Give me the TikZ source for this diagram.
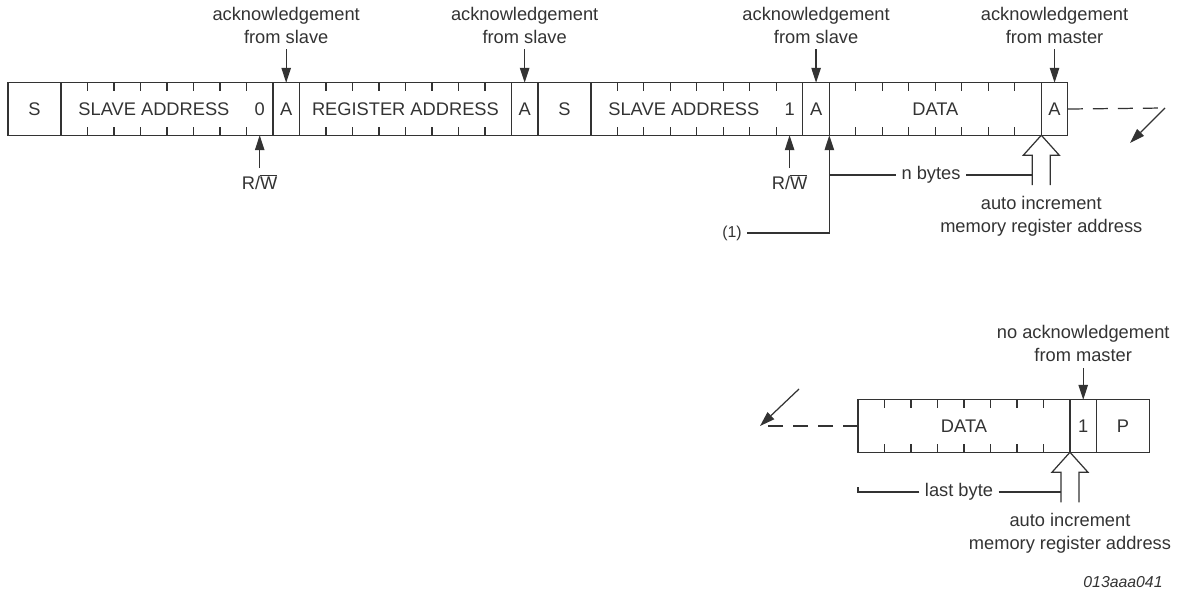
\documentclass[tikz,border=0pt]{standalone}
\usepackage{fontspec}
\setmainfont{Liberation Sans}
\usetikzlibrary{positioning,arrows.meta}

\tikzset{
  field/.style={draw, minimum height=1.05cm, inner sep=0pt, outer sep=0pt},
  bitone/.style={field, minimum width=0.53cm},
  bittwo/.style={field, minimum width=1.06cm},
  byte/.style={field, minimum width=4.24cm,
    path picture={
      \foreach \i in {1,...,7} {
        \draw ([xshift=\i*0.53cm]path picture bounding box.north west) -- ++(0,-0.16cm);
        \draw ([xshift=\i*0.53cm]path picture bounding box.south west) -- ++(0,0.16cm);
      }
    }},
  note/.style={inner sep=0.1cm, align=center},
  arr/.style={-{Triangle[length=0.3cm,width=0.19cm]}},
  cont/.style={dash pattern=on 0.3cm off 0.2cm}
}

\begin{document}
\begin{tikzpicture}[x=0.02cm, y=-0.02cm, line width=0.7pt, color=black!80,
    font=\fontsize{10.4pt}{13.1pt}\selectfont]
    \useasboundingbox (0,0) rectangle (1179,592);

    % Upper frame
    \node[bittwo, anchor=west] (s1) at (8,109) {S};
    \node[byte, right=0pt of s1] (sa1) {};
    \node[bitone, right=0pt of sa1] (a1) {A};
    \node[byte, right=0pt of a1] (ra) {REGISTER ADDRESS};
    \node[bitone, right=0pt of ra] (a2) {A};
    \node[bittwo, right=0pt of a2] (s2) {S};
    \node[byte, right=0pt of s2] (sa2) {};
    \node[bitone, right=0pt of sa2] (a3) {A};
    \node[byte, right=0pt of a3] (data1) {DATA};
    \node[bitone, right=0pt of data1] (a4) {A};

    % Texts inside the address bytes
    \node (sa1t) at ([xshift=-0.26cm]sa1.center) {SLAVE ADDRESS};
    \node (rw0) at ([xshift=-0.265cm]sa1.east) {0};
    \node (sa2t) at ([xshift=-0.26cm]sa2.center) {SLAVE ADDRESS};
    \node (rw1) at ([xshift=-0.265cm]sa2.east) {1};

    % Acknowledge labels
    \node[note, anchor=south] (ack1) at ([yshift=0.67cm]a1.north) {acknowledgement\\from slave};
    \node[note, anchor=south] (ack2) at ([yshift=0.67cm]a2.north) {acknowledgement\\from slave};
    \node[note, anchor=south] (ack3) at ([yshift=0.67cm]a3.north) {acknowledgement\\from slave};
    \node[note, anchor=south] (ack4) at ([yshift=0.67cm]a4.north) {acknowledgement\\from master};
    \draw[arr] (ack1.south) -- (a1.north);
    \draw[arr] (ack2.south) -- (a2.north);
    \draw[arr] (ack3.south) -- (a3.north);
    \draw[arr] (ack4.south) -- (a4.north);

    % Read/write bits
    \node[note, anchor=north] (rwa) at ([xshift=-0.265cm,yshift=-0.66cm]sa1.south east) {R/$\overline{\mbox{W}}$};
    \node[note, anchor=north] (rwb) at ([xshift=-0.265cm,yshift=-0.66cm]sa2.south east) {R/$\overline{\mbox{W}}$};
    \draw[arr] (rwa.north) -- (rwa.north |- sa1.south);
    \draw[arr] (rwb.north) -- (rwb.north |- sa2.south);

    % Note (1) and byte count
    \node[note, font=\fontsize{9pt}{11pt}\selectfont] (one) at (732,233) {(1)};
    \draw[arr] (one.east) -| (data1.south west);
    \node[note] (nb) at (931,175) {n bytes};
    \draw (nb.west) -- (nb.west -| data1.south west);

    % Auto increment arrow
    \coordinate (inc1) at (data1.south east);
    \draw (inc1) -- ++(-18,20) -- ++(9,0) coordinate (inc1l) -- ++(0,30);
    \draw (inc1) -- ++(18,20) -- ++(-9,0) -- ++(0,30);
    \draw (nb.east) -- (nb.east -| inc1l);
    \node[note] (auto1) at ([yshift=-1.63cm]inc1) {auto increment\\memory register address};

    % Continuation
    \coordinate (brk1) at (1165,108);
    \draw[cont] (a4.east) -- (brk1);
    \coordinate (brk1e) at (1130,143);
    \draw[arr] (brk1) -- (brk1e);

    % Lower frame
    \node[byte, anchor=west] (data2) at (858,426) {DATA};
    \node[bitone, right=0pt of data2] (n1) {1};
    \node[bittwo, right=0pt of n1] (p) {P};

    \node[note, anchor=south] (nack) at ([yshift=0.64cm]n1.north) {no acknowledgement\\from master};
    \draw[arr] (nack.south) -- (n1.north);

    \coordinate (brk2) at (760,426);
    \coordinate (brk2s) at (799,389);
    \draw[cont] (data2.west) -- (brk2);
    \draw[arr] (brk2s) -- (brk2);

    % Last byte
    \coordinate (inc2) at (data2.south east);
    \draw (inc2) -- ++(-18,20) -- ++(9,0) coordinate (inc2l) -- ++(0,30);
    \draw (inc2) -- ++(18,20) -- ++(-9,0) -- ++(0,30);
    \node[note] (lb) at (959,492) {last byte};
    \draw (lb.west) -- (lb.west -| data2.west) -- ++(0,-5);
    \draw (lb.east) -- (lb.east -| inc2l);
    \node[note] (auto2) at ([yshift=-1.63cm]inc2) {auto increment\\memory register address};

    % Figure number
    \node[font=\itshape\fontsize{9pt}{11pt}\selectfont] (fig) at (1123,582) {013aaa041};
\end{tikzpicture}
\end{document}
